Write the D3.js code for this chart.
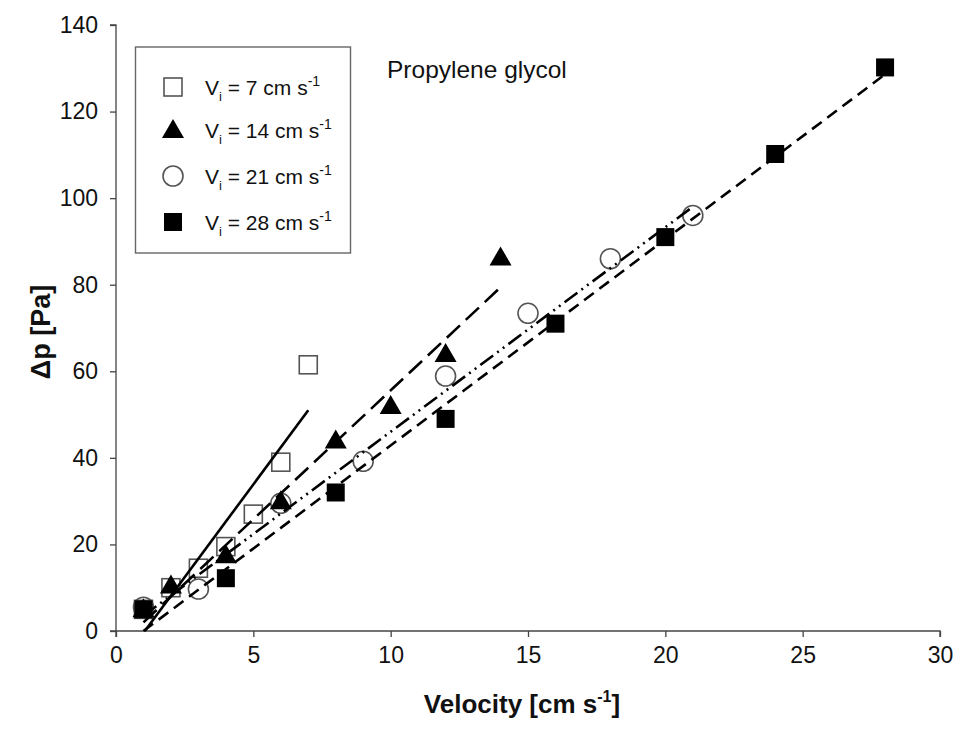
<!DOCTYPE html>
<html>
<head>
<meta charset="utf-8">
<script src="https://cdn.jsdelivr.net/npm/d3@7"></script>
<style>
  html, body { margin: 0; padding: 0; background: #fff; }
  svg { display: block; font-family: "Liberation Sans", Arial, sans-serif; }
</style>
</head>
<body>
<svg id="chart" width="961" height="736"></svg>
<script>
// ---- data ----
const xTicks = [0, 5, 10, 15, 20, 25, 30];
const yTicks = [0, 20, 40, 60, 80, 100, 120, 140];

const seriesNames = ["7", "14", "21", "28"];
const v7X = [1, 2, 3, 4, 5, 6, 7];
const v7Y = [5, 10, 14.5, 19.5, 27, 39, 61.5];
const v14X = [1, 2, 4, 6, 8, 10, 12, 14];
const v14Y = [5, 10.5, 17.5, 30, 44, 52, 64, 86.3];
const v21X = [1, 3, 6, 9, 12, 15, 18, 21];
const v21Y = [5.5, 9.7, 29.5, 39.2, 58.9, 73.4, 86, 96];
const v28X = [1, 4, 8, 12, 16, 20, 24, 28];
const v28Y = [5, 12.2, 32, 49, 71, 91, 110.2, 130.2];

// fitted lines (start/end points)
const fitX0 = [1.05, 1, 1, 1];
const fitY0 = [0, 2, 3.5, 0];
const fitX1 = [7, 14, 21, 28];
const fitY1 = [51, 79.4, 98, 128.6];

const annotation = "Propylene glycol";
const xLabel = "Velocity [cm s";
const yLabel = "Δp [Pa]";

// ---- chart ----
const svg = d3.select("#chart");
const x = d3.scaleLinear().domain([0, 30]).range([116, 940]);
const y = d3.scaleLinear().domain([0, 140]).range([631, 25]);

const axisColor = "#444";

const xAxis = svg.append("g")
  .attr("transform", `translate(0,${y(0)})`)
  .call(d3.axisBottom(x).tickValues(xTicks).tickSize(6).tickPadding(5).tickFormat(d3.format("d")));
const yAxis = svg.append("g")
  .attr("transform", `translate(${x(0)},0)`)
  .call(d3.axisLeft(y).tickValues(yTicks).tickSize(6).tickPadding(12).tickFormat(d3.format("d")));

[xAxis, yAxis].forEach(g => {
  g.select(".domain").attr("stroke", axisColor).attr("stroke-width", 1.3);
  g.selectAll(".tick line").attr("stroke", axisColor).attr("stroke-width", 1.3);
  g.selectAll(".tick text").attr("fill", "#111").style("font-size", "23px")
    .style("font-family", "'Liberation Sans', Arial, sans-serif");
});
xAxis.selectAll(".tick text").attr("dy", "0.9em");
xAxis.select(".domain").attr("d", `M${x(0)},6V0H${x(30)}V6`);
yAxis.select(".domain").attr("d", `M-6,${y(140)}H0V${y(0)}H-6`);

// markers
const sqSize = 18;
function drawMarkers(xs, ys, type) {
  const pts = xs.map((v, i) => [x(v), y(ys[i])]);
  const g = svg.append("g");
  if (type === "openSquare") {
    g.selectAll("rect").data(pts).join("rect")
      .attr("x", d => d[0] - sqSize / 2).attr("y", d => d[1] - sqSize / 2)
      .attr("width", sqSize).attr("height", sqSize)
      .attr("fill", "none").attr("stroke", "#555").attr("stroke-width", 1.6);
  } else if (type === "filledSquare") {
    g.selectAll("rect").data(pts).join("rect")
      .attr("x", d => d[0] - sqSize / 2).attr("y", d => d[1] - sqSize / 2)
      .attr("width", sqSize).attr("height", sqSize)
      .attr("fill", "#000");
  } else if (type === "openCircle") {
    g.selectAll("circle").data(pts).join("circle")
      .attr("cx", d => d[0]).attr("cy", d => d[1]).attr("r", 10)
      .attr("fill", "none").attr("stroke", "#555").attr("stroke-width", 1.6);
  } else if (type === "triangle") {
    g.selectAll("path").data(pts).join("path")
      .attr("d", d => `M${d[0]},${d[1] - 11}L${d[0] + 11},${d[1] + 8}L${d[0] - 11},${d[1] + 8}Z`)
      .attr("fill", "#000");
  }
}

drawMarkers(v7X, v7Y, "openSquare");
drawMarkers(v21X, v21Y, "openCircle");
drawMarkers(v14X, v14Y, "triangle");
drawMarkers(v28X, v28Y, "filledSquare");

// fitted lines
const dashes = [null, "18,8", "16,5,2,5,2,5", "12,7"];
const line = d3.line().x(d => x(d[0])).y(d => y(d[1]));
fitX0.forEach((x0, i) => {
  svg.append("path")
    .attr("d", line([[x0, fitY0[i]], [fitX1[i], fitY1[i]]]))
    .attr("stroke", "#000").attr("stroke-width", 2.6).attr("fill", "none")
    .attr("stroke-dasharray", dashes[i]);
});

// annotation
svg.append("text").attr("x", 387).attr("y", 78)
  .style("font-size", "24.5px").attr("fill", "#111").text(annotation);

// legend
const legend = svg.append("g");
legend.append("rect").attr("x", 135.5).attr("y", 47).attr("width", 215).attr("height", 206)
  .attr("fill", "#fff").attr("stroke", "#666").attr("stroke-width", 1.4);
const legendY = [87, 130, 176, 222];
const legendTypes = ["openSquare", "triangle", "openCircle", "filledSquare"];
legendTypes.forEach((t, i) => {
  const cx = 173, cy = legendY[i];
  if (t === "openSquare") legend.append("rect").attr("x", cx - 9).attr("y", cy - 9).attr("width", 18).attr("height", 18).attr("fill", "none").attr("stroke", "#555").attr("stroke-width", 1.6);
  if (t === "filledSquare") legend.append("rect").attr("x", cx - 9).attr("y", cy - 9).attr("width", 18).attr("height", 18).attr("fill", "#000");
  if (t === "openCircle") legend.append("circle").attr("cx", cx).attr("cy", cy).attr("r", 10).attr("fill", "none").attr("stroke", "#555").attr("stroke-width", 1.6);
  if (t === "triangle") legend.append("path").attr("d", `M${cx},${cy - 11}L${cx + 11},${cy + 8}L${cx - 11},${cy + 8}Z`).attr("fill", "#000");
  const tx = legend.append("text").attr("x", 205).attr("y", cy + 8).style("font-size", "21px").attr("fill", "#111");
  tx.append("tspan").text("V");
  tx.append("tspan").text("i").style("font-size", "13px").attr("dy", 6);
  tx.append("tspan").text(` = ${seriesNames[i]} cm s`).attr("dy", -6);
  tx.append("tspan").text("-1").style("font-size", "14px").attr("dy", -9);
});

// axis titles
const xt = svg.append("text").attr("x", 522).attr("y", 713).attr("text-anchor", "middle")
  .style("font-size", "26px").style("font-weight", "bold").attr("fill", "#111");
xt.append("tspan").text(xLabel);
xt.append("tspan").text("-1").style("font-size", "16px").attr("dy", -11);
xt.append("tspan").text("]").attr("dy", 11);

svg.append("text").attr("transform", `translate(50,${332}) rotate(-90)`).attr("text-anchor", "middle")
  .style("font-size", "27px").style("font-weight", "bold").attr("fill", "#111").text(yLabel);
</script>
</body>
</html>
